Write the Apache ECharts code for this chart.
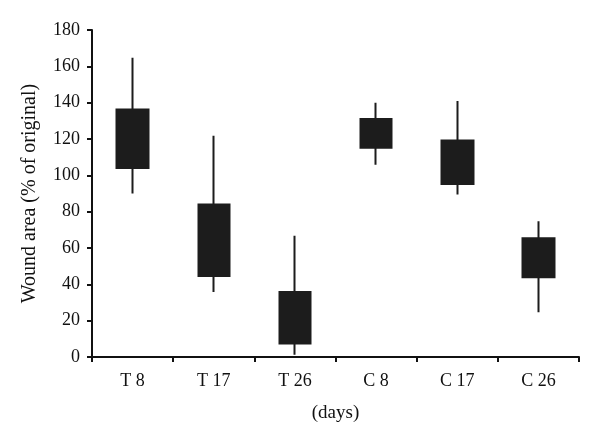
<!DOCTYPE html>
<html><head><meta charset="utf-8">
<script src="https://cdn.jsdelivr.net/npm/echarts@6/dist/echarts.min.js"></script>
<style>html,body{margin:0;padding:0;background:#fff}#c{width:600px;height:442px}</style>
</head><body><div id="c"></div>
<script>
const categories = ['T 8', 'T 17', 'T 26', 'C 8', 'C 17', 'C 26'];
const boxTop    = [136.3, 84.0, 35.8, 131.0, 119.2, 65.3];
const boxBottom = [104.0, 44.6, 7.5, 115.2, 95.2, 43.9];
const whiskerLow  = [90.0, 35.8, 1.3, 105.8, 89.5, 24.6];
const whiskerHigh = [164.7, 121.8, 66.8, 140.0, 140.9, 74.7];
const yTicks = [0, 20, 40, 60, 80, 100, 120, 140, 160, 180];

const data = categories.map((c, i) => [boxBottom[i], boxTop[i], whiskerLow[i], whiskerHigh[i]]);
const font = 'Liberation Serif';
const chart = echarts.init(document.getElementById('c'));
chart.setOption({
  animation: false,
  backgroundColor: '#fff',
  grid: {left: 92, right: 21, top: 30, bottom: 85},
  xAxis: {
    type: 'category', data: categories, boundaryGap: true,
    name: '(days)', nameLocation: 'middle', nameGap: 47,
    nameTextStyle: {fontFamily: font, fontSize: 19, color: '#111'},
    axisLine: {lineStyle: {color: '#111', width: 2}},
    axisTick: {show: true, length: 5, lineStyle: {color: '#111', width: 2}},
    axisLabel: {fontFamily: font, fontSize: 18, color: '#111', margin: 15}
  },
  yAxis: {
    type: 'value', min: yTicks[0], max: yTicks[yTicks.length - 1], interval: 20,
    name: 'Wound area (% of original)', nameLocation: 'middle', nameGap: 52,
    nameTextStyle: {fontFamily: font, fontSize: 20, color: '#111'},
    axisLine: {show: true, lineStyle: {color: '#111', width: 2}},
    axisTick: {show: true, length: 5, lineStyle: {color: '#111', width: 2}},
    axisLabel: {fontFamily: font, fontSize: 18, color: '#111', margin: 12},
    splitLine: {show: false}
  },
  series: [{
    type: 'candlestick',
    data: data,
    barWidth: 32,
    itemStyle: {color: '#1c1c1c', color0: '#1c1c1c', borderColor: '#1c1c1c', borderColor0: '#1c1c1c', borderWidth: 2}
  }]
});
</script></body></html>
